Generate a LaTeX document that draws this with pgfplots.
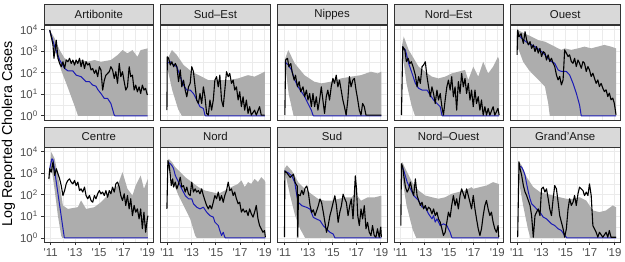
\documentclass[border=0pt]{standalone}
\usepackage{fontspec}
\setmainfont{Liberation Sans}
\usepackage{pgfplots}
\pgfplotsset{compat=1.18}
\usepgfplotslibrary{groupplots,fillbetween}
\usetikzlibrary{calc}
\definecolor{stripc}{HTML}{D9D9D9}
\definecolor{framec}{HTML}{333333}
\definecolor{gridc}{HTML}{EBEBEB}
\definecolor{ticklab}{HTML}{4D4D4D}
\definecolor{ribbonc}{HTML}{ADADAD}
\definecolor{modelblue}{HTML}{1C1CB4}
\pgfplotsset{
 every axis title shift=0pt,
 panel/.style={
  scale only axis, width=109.5pt, height=95pt,
  xmin=2010.45, xmax=2019.5, ymin=-0.2, ymax=4.2,
  xtick={2011,2013,2015,2017,2019}, ytick={0,1,2,3,4},
  minor x tick num=1, minor y tick num=1,
  grid=both,
  major grid style={gridc, line width=0.55pt},
  minor grid style={gridc, line width=0.3pt},
  minor tick length=0pt, major tick length=2.75pt,
  tick align=outside, tick pos=left,
  tick style={framec, line width=0.55pt},
  axis line style={framec, line width=0.55pt},
  xticklabels={\textquotesingle11,\textquotesingle13,\textquotesingle15,\textquotesingle17,\textquotesingle19},
  yticklabels={10\textsuperscript{0},10\textsuperscript{1},10\textsuperscript{2},10\textsuperscript{3},10\textsuperscript{4}},
  ticklabel style={font=\fontsize{11.4}{12}\selectfont, text=ticklab},
  title style={at={(0.5,1)}, anchor=south, fill=stripc, draw=framec, line width=0.55pt,
    minimum width=109.5pt, minimum height=20pt, inner sep=0pt,
    font=\fontsize{11.4}{12}\selectfont, text=black!90},
 },
 toprow/.style={xticklabels={}, xtick style={draw=none}},
 innercol/.style={yticklabels={}, ytick style={draw=none}},
 obs/.style={black, line width=1.1pt, line join=round},
 mod/.style={modelblue, line width=1pt, line join=round},
 rib/.style={fill=ribbonc, draw=none},
}
\begin{document}
\begin{tikzpicture}
\begin{groupplot}[group style={group size=5 by 2, horizontal sep=7pt, vertical sep=27pt}, panel]
% ---------------- Artibonite
\nextgroupplot[title={Artibonite}, toprow]
\addplot[name path=u1, draw=none, forget plot] coordinates {(2010.92,3.97)(2011.33,3.58)(2011.74,3.04)(2012.15,2.66)(2012.42,2.58)(2012.97,2.50)(2013.51,2.58)(2014.06,2.50)(2014.61,2.58)(2015.15,2.50)(2015.97,2.58)(2016.52,2.81)(2016.93,3.04)(2017.34,2.89)(2017.75,3.04)(2018.16,2.73)(2018.43,3.04)(2019.0,3.12)};
\addplot[name path=l1, draw=none, forget plot] coordinates {(2010.92,3.85)(2011.2,3.2)(2011.6,2.6)(2011.87,2.1)(2012.42,1.3)(2013.1,0.26)(2013.25,0)(2019.0,0)};
\addplot[rib] fill between[of=u1 and l1];
\addplot[mod] coordinates {(2010.92,3.94)(2011.33,3.20)(2011.74,2.58)(2012.15,2.19)(2012.42,2.08)(2012.83,2.08)(2013.10,1.88)(2013.51,1.81)(2013.92,1.58)(2014.20,1.58)(2014.47,1.42)(2014.74,1.37)(2014.88,1.22)(2015.15,1.03)(2015.43,0.80)(2015.70,0.80)(2015.97,0.57)(2016.25,0.03)(2016.30,0)(2019.0,0)};
\addplot[obs] coordinates {(2010.92,3.97)(2011.05,3.66)(2011.19,3.27)(2011.27,2.66)(2011.46,3.50)(2011.60,2.66)(2011.74,2.42)(2011.87,2.27)(2012.01,2.50)(2012.15,2.19)(2012.28,2.58)(2012.42,2.50)(2012.56,2.66)(2012.69,2.42)(2012.83,2.58)(2012.97,2.35)(2013.10,2.58)(2013.24,2.42)(2013.38,2.66)(2013.51,2.27)(2013.65,2.58)(2013.79,2.19)(2013.92,2.50)(2014.06,2.35)(2014.20,2.42)(2014.33,2.12)(2014.47,2.19)(2014.61,1.96)(2014.74,2.12)(2014.88,1.81)(2015.02,2.27)(2015.15,2.12)(2015.29,1.19)(2015.43,1.65)(2015.56,1.88)(2015.70,1.96)(2015.84,2.04)(2015.97,2.27)(2016.11,2.12)(2016.25,1.73)(2016.38,2.04)(2016.52,1.50)(2016.66,2.42)(2016.79,1.81)(2016.93,2.04)(2017.07,1.58)(2017.20,1.19)(2017.34,1.34)(2017.48,2.27)(2017.61,1.81)(2017.75,1.88)(2017.89,1.19)(2018.02,1.42)(2018.16,1.11)(2018.30,1.34)(2018.43,1.03)(2018.57,1.42)(2018.70,1.19)(2018.84,1.27)(2018.98,0.96)};
% ---------------- Sud-Est
\nextgroupplot[title={Sud\textendash Est}, toprow, innercol]
\addplot[name path=u2, draw=none, forget plot] coordinates {(2010.97,2.58)(2011.38,3.04)(2011.79,2.81)(2012.34,2.35)(2013.02,2.04)(2013.84,1.81)(2014.39,1.65)(2015.21,1.65)(2016.03,1.65)(2016.85,1.73)(2017.67,1.88)(2018.21,1.81)(2018.76,1.96)(2019.05,2.04)};
\addplot[name path=l2, draw=none, forget plot] coordinates {(2010.97,2.3)(2011.4,1.2)(2011.9,0.3)(2012.2,0)(2019.05,0)};
\addplot[rib] fill between[of=u2 and l2];
\addplot[mod] coordinates {(2010.97,2.42)(2011.25,2.50)(2011.52,2.35)(2011.79,2.27)(2012.07,1.81)(2012.34,1.42)(2012.61,1.19)(2012.89,1.19)(2013.16,1.03)(2013.43,0.73)(2013.70,0.42)(2013.98,0.34)(2014.11,0.03)(2014.15,0)(2019.05,0)};
\addplot[obs] coordinates {(2010.97,0.26)(2011.00,2.73)(2011.11,2.66)(2011.25,2.35)(2011.38,2.50)(2011.52,2.27)(2011.66,2.42)(2011.79,2.27)(2011.93,1.58)(2012.07,2.12)(2012.20,1.34)(2012.34,1.65)(2012.48,1.19)(2012.61,0.88)(2012.75,1.34)(2012.89,1.50)(2013.02,2.27)(2013.16,2.04)(2013.30,1.34)(2013.43,0.73)(2013.57,0.57)(2013.70,1.03)(2013.84,0.57)(2013.98,1.34)(2014.11,0.88)(2014.25,0.11)(2014.39,0.03)(2014.52,0.73)(2014.66,0.26)(2014.80,0.73)(2014.93,1.65)(2015.07,1.81)(2015.21,1.34)(2015.34,1.88)(2015.48,0.73)(2015.62,0.42)(2015.75,1.19)(2015.89,2.04)(2016.03,1.81)(2016.16,1.96)(2016.30,1.50)(2016.44,1.65)(2016.57,1.19)(2016.71,1.34)(2016.85,0.73)(2016.98,1.11)(2017.12,0.42)(2017.26,0.88)(2017.39,0.26)(2017.53,0.73)(2017.67,0.11)(2017.80,0.42)(2017.94,0.03)(2018.21,0.26)(2018.35,0.03)(2018.62,0.42)(2018.76,0.03)(2019.03,0.03)};
% ---------------- Nippes
\nextgroupplot[title={Nippes}, toprow, innercol]
\addplot[name path=u3, draw=none, forget plot] coordinates {(2011.08,2.6)(2011.36,3.04)(2011.9,2.42)(2012.7,1.88)(2013.5,1.58)(2014.1,1.5)(2014.9,1.58)(2015.73,1.73)(2016.55,1.81)(2017.37,1.88)(2018.19,2.04)(2018.74,1.96)(2019.05,2.04)};
\addplot[name path=l3, draw=none, forget plot] coordinates {(2011.08,2.45)(2011.4,1.0)(2011.8,0)(2019.05,0)};
\addplot[rib] fill between[of=u3 and l3];
\addplot[mod] coordinates {(2011.08,2.5)(2011.36,2.35)(2011.63,2.12)(2011.9,1.65)(2012.17,1.34)(2012.45,1.11)(2012.72,0.88)(2012.99,0.57)(2013.27,0.26)(2013.4,0.03)(2013.45,0)(2019.05,0)};
\addplot[obs] coordinates {(2011.08,0.03)(2011.14,2.58)(2011.30,2.66)(2011.41,2.27)(2011.57,2.42)(2011.68,2.04)(2011.85,1.65)(2011.96,1.88)(2012.12,1.34)(2012.26,1.58)(2012.39,1.11)(2012.58,1.34)(2012.72,0.88)(2012.86,1.19)(2012.99,0.73)(2013.13,1.03)(2013.27,0.42)(2013.40,1.03)(2013.54,0.42)(2013.68,0.88)(2013.81,0.26)(2013.95,0.73)(2014.09,1.34)(2014.22,0.73)(2014.36,0.11)(2014.50,0.88)(2014.63,1.19)(2014.77,0.73)(2014.91,1.34)(2015.05,1.73)(2015.18,1.50)(2015.32,1.88)(2015.46,1.34)(2015.59,1.65)(2015.73,1.19)(2015.87,0.73)(2016.00,0.42)(2016.14,0.03)(2016.28,0.73)(2016.41,1.81)(2016.55,1.34)(2016.69,1.65)(2016.82,1.73)(2016.96,1.19)(2017.10,0.73)(2017.23,0.26)(2017.37,0.03)(2017.50,0.57)(2017.64,0.42)(2017.78,0.03)(2019.05,0.03)};
% ---------------- Nord-Est
\nextgroupplot[title={Nord\textendash Est}, toprow, innercol]
\addplot[name path=u4, draw=none, forget plot] coordinates {(2011.14,3.3)(2011.27,3.66)(2011.68,3.04)(2012.09,2.66)(2012.5,2.27)(2013.05,2.04)(2013.6,1.81)(2014.14,1.73)(2014.69,1.81)(2015.23,1.96)(2015.78,2.04)(2016.33,2.12)(2016.6,1.65)(2017.01,2.27)(2017.42,1.81)(2017.83,2.5)(2018.24,1.96)(2018.65,2.27)(2019.05,2.73)(2019.15,2.58)};
\addplot[name path=l4, draw=none, forget plot] coordinates {(2011.14,3.0)(2011.5,1.5)(2011.9,0.5)(2012.2,0)(2019.15,0)};
\addplot[rib] fill between[of=u4 and l4];
\addplot[mod] coordinates {(2011.14,3.2)(2011.41,3.04)(2011.68,2.42)(2011.96,1.96)(2012.23,1.5)(2012.5,1.27)(2012.78,1.19)(2013.19,1.19)(2013.46,0.96)(2013.73,0.73)(2014.01,0.57)(2014.28,0.42)(2014.42,0.03)(2014.45,0)(2019.15,0)};
\addplot[obs] coordinates {(2011.08,0.03)(2011.19,3.20)(2011.36,3.04)(2011.49,2.50)(2011.63,2.66)(2011.77,2.42)(2011.90,2.50)(2012.04,2.27)(2012.23,1.88)(2012.37,1.34)(2012.50,1.81)(2012.64,1.50)(2012.78,2.27)(2012.91,2.35)(2013.05,2.50)(2013.19,1.81)(2013.32,1.34)(2013.46,0.88)(2013.60,1.34)(2013.73,1.03)(2013.87,0.57)(2014.01,1.19)(2014.14,0.73)(2014.28,1.03)(2014.42,0.42)(2014.55,0.03)(2014.69,0.73)(2014.83,1.34)(2014.96,1.65)(2015.10,1.19)(2015.23,1.81)(2015.37,0.88)(2015.51,1.34)(2015.64,0.26)(2015.78,1.58)(2015.92,1.03)(2016.05,1.96)(2016.19,1.34)(2016.33,1.73)(2016.46,1.03)(2016.60,1.50)(2016.74,0.73)(2016.87,1.19)(2017.01,0.42)(2017.15,1.19)(2017.28,0.57)(2017.42,0.88)(2017.56,0.26)(2017.69,0.73)(2017.83,0.03)(2017.97,0.42)(2018.10,0.03)(2018.24,0.34)(2018.38,0.03)(2018.65,0.42)(2018.79,0.03)(2019.05,0.34)(2019.15,0.03)};
% ---------------- Ouest
\nextgroupplot[title={Ouest}, toprow, innercol]
\addplot[name path=u5, draw=none, forget plot] coordinates {(2010.97,3.9)(2011.05,3.97)(2011.66,3.8)(2012.2,3.66)(2012.75,3.5)(2013.3,3.43)(2013.84,3.28)(2014.39,3.12)(2014.66,3.05)(2014.93,3.12)(2015.48,3.05)(2016.03,3.12)(2016.57,3.2)(2017.12,3.12)(2017.67,3.2)(2018.21,3.28)(2018.76,3.2)(2019.17,3.12)};
\addplot[name path=l5, draw=none, forget plot] coordinates {(2010.97,3.3)(2011.1,3.1)(2011.5,2.5)(2012.0,2.1)(2012.7,1.7)(2013.3,1.35)(2013.57,0.58)(2013.7,0)(2019.17,0)};
\addplot[rib] fill between[of=u5 and l5];
\addplot[mod] coordinates {(2011.05,3.8)(2011.38,3.58)(2011.93,3.35)(2012.48,3.2)(2013.02,2.97)(2013.3,2.82)(2013.57,2.66)(2013.84,2.51)(2014.11,2.43)(2014.39,2.12)(2014.66,2.05)(2015.07,2.05)(2015.34,1.89)(2015.62,1.5)(2015.89,1.05)(2016.16,0.5)(2016.3,0)(2019.17,0)};
\addplot[obs] coordinates {(2011.00,2.82)(2011.05,3.97)(2011.16,3.66)(2011.33,3.80)(2011.52,3.35)(2011.66,3.89)(2011.79,3.50)(2011.93,3.28)(2012.07,3.43)(2012.20,3.12)(2012.34,3.28)(2012.48,2.97)(2012.61,3.20)(2012.75,2.90)(2012.89,3.12)(2013.02,2.74)(2013.16,2.97)(2013.30,2.90)(2013.43,2.58)(2013.57,2.82)(2013.70,2.51)(2013.84,2.66)(2013.98,2.43)(2014.11,2.28)(2014.25,1.89)(2014.39,1.66)(2014.52,1.82)(2014.66,1.43)(2014.80,1.66)(2014.93,3.05)(2015.07,2.90)(2015.21,2.74)(2015.34,2.82)(2015.48,2.51)(2015.62,2.43)(2015.75,2.66)(2015.89,2.28)(2016.03,2.58)(2016.16,2.43)(2016.30,2.20)(2016.44,2.51)(2016.57,2.43)(2016.71,2.05)(2016.85,2.28)(2016.98,2.12)(2017.12,1.82)(2017.26,1.97)(2017.39,1.74)(2017.53,1.50)(2017.67,1.66)(2017.80,1.35)(2017.94,1.50)(2018.08,1.28)(2018.21,1.12)(2018.35,1.20)(2018.49,0.89)(2018.62,1.05)(2018.76,0.74)(2018.90,0.82)(2019.03,0.58)(2019.17,0.05)};
% ---------------- Centre
\nextgroupplot[title={Centre}]
\addplot[name path=u6, draw=none, forget plot] coordinates {(2010.85,3.0)(2011.05,3.97)(2011.33,3.66)(2011.6,2.89)(2011.87,2.0)(2012.01,1.5)(2012.42,1.34)(2013.24,1.42)(2013.51,1.73)(2013.92,1.34)(2014.61,1.42)(2015.15,1.65)(2015.7,1.96)(2016.11,2.19)(2016.52,2.42)(2016.93,3.04)(2017.34,2.27)(2017.75,1.96)(2018.02,2.42)(2018.43,2.89)(2018.7,2.27)(2019.03,2.73)};
\addplot[name path=l6, draw=none, forget plot] coordinates {(2010.85,2.6)(2011.05,3.3)(2011.33,2.2)(2011.6,1.0)(2011.87,0.1)(2011.95,0)(2019.03,0)};
\addplot[rib] fill between[of=u6 and l6];
\addplot[mod] coordinates {(2010.92,3.2)(2011.1,3.66)(2011.2,3.6)(2012.12,0.03)(2012.15,0)(2019.03,0)};
\addplot[obs] coordinates {(2010.85,2.73)(2010.92,3.20)(2011.05,3.04)(2011.19,3.51)(2011.33,2.89)(2011.46,3.20)(2011.60,2.97)(2011.74,2.73)(2011.87,2.42)(2012.01,1.96)(2012.15,2.19)(2012.28,2.50)(2012.42,2.66)(2012.56,2.73)(2012.69,2.58)(2012.83,2.50)(2012.97,2.66)(2013.10,2.42)(2013.24,2.58)(2013.38,2.19)(2013.51,2.27)(2013.65,2.12)(2013.79,2.35)(2013.92,1.96)(2014.06,1.81)(2014.20,1.96)(2014.33,1.73)(2014.47,1.65)(2014.61,1.96)(2014.74,1.81)(2014.88,2.04)(2015.02,2.19)(2015.15,2.04)(2015.29,2.12)(2015.43,1.96)(2015.56,2.19)(2015.70,1.88)(2015.84,2.19)(2015.97,2.04)(2016.11,2.35)(2016.25,2.12)(2016.38,2.50)(2016.52,2.58)(2016.66,2.35)(2016.79,1.96)(2016.93,1.73)(2017.07,2.04)(2017.20,1.50)(2017.34,1.96)(2017.48,1.34)(2017.61,1.81)(2017.75,1.03)(2017.89,1.50)(2018.02,1.19)(2018.16,1.34)(2018.30,0.88)(2018.43,1.34)(2018.57,0.42)(2018.70,1.19)(2018.84,0.26)(2018.98,0.88)(2019.03,1.03)};
% ---------------- Nord
\nextgroupplot[title={Nord}, innercol]
\addplot[name path=u7, draw=none, forget plot] coordinates {(2011.0,3.5)(2011.11,3.66)(2011.38,3.51)(2011.66,3.27)(2011.93,3.12)(2012.48,2.81)(2013.02,2.58)(2013.57,2.35)(2014.11,2.19)(2014.66,2.12)(2015.21,2.04)(2015.75,2.19)(2016.3,2.35)(2016.85,2.5)(2017.12,2.66)(2017.39,2.35)(2017.67,2.58)(2017.94,2.5)(2018.21,2.73)(2018.49,2.58)(2018.76,2.81)(2019.03,2.66)(2019.1,2.58)};
\addplot[name path=l7, draw=none, forget plot] coordinates {(2011.0,3.4)(2011.38,2.73)(2011.93,1.96)(2012.48,1.34)(2012.89,0.88)(2013.3,0.11)(2013.43,0)(2019.1,0)};
\addplot[rib] fill between[of=u7 and l7];
\addplot[mod] coordinates {(2011.05,3.51)(2011.25,3.43)(2011.38,3.35)(2011.52,3.2)(2011.66,2.89)(2011.93,2.58)(2012.2,2.27)(2012.48,1.96)(2012.75,1.81)(2013.02,1.81)(2013.16,1.58)(2013.43,1.42)(2013.7,1.34)(2013.98,1.42)(2014.25,1.19)(2014.52,1.03)(2014.8,0.96)(2014.93,0.73)(2015.21,0.57)(2015.34,0.34)(2015.48,0.11)(2015.62,0.26)(2015.75,0.03)(2015.8,0)(2019.1,0)};
\addplot[obs] coordinates {(2010.97,1.34)(2011.05,3.58)(2011.16,3.35)(2011.25,2.89)(2011.33,2.42)(2011.44,2.73)(2011.52,2.35)(2011.66,2.58)(2011.79,2.27)(2011.93,2.50)(2012.07,2.81)(2012.20,2.35)(2012.34,2.42)(2012.48,2.12)(2012.61,2.35)(2012.75,2.04)(2012.89,1.96)(2013.02,2.58)(2013.16,2.12)(2013.30,2.27)(2013.43,2.12)(2013.57,2.19)(2013.70,2.04)(2013.84,2.27)(2013.98,1.96)(2014.11,1.73)(2014.25,1.50)(2014.39,1.34)(2014.52,1.50)(2014.66,1.34)(2014.80,1.65)(2014.93,1.96)(2015.07,1.81)(2015.21,2.12)(2015.34,1.73)(2015.48,1.96)(2015.62,1.65)(2015.75,1.96)(2015.89,2.19)(2016.03,2.58)(2016.16,2.19)(2016.30,2.27)(2016.44,1.96)(2016.57,2.12)(2016.71,1.81)(2016.85,1.58)(2016.98,1.65)(2017.12,1.19)(2017.26,1.34)(2017.39,1.19)(2017.53,1.27)(2017.67,1.03)(2017.80,1.34)(2017.94,1.11)(2018.08,0.96)(2018.21,1.19)(2018.35,1.50)(2018.49,0.88)(2018.62,0.57)(2018.76,0.42)(2018.90,0.26)(2019.03,0.34)(2019.10,0.03)};
% ---------------- Sud
\nextgroupplot[title={Sud}, innercol]
\addplot[name path=u8, draw=none, forget plot] coordinates {(2011.05,3.2)(2011.25,3.36)(2011.66,3.1)(2012.2,2.56)(2012.75,2.25)(2013.3,2.02)(2013.84,1.8)(2014.39,1.72)(2014.93,1.72)(2015.48,1.8)(2016.03,1.87)(2016.57,1.87)(2016.8,2.0)(2016.9,2.9)(2017.0,2.0)(2017.37,1.72)(2017.91,1.87)(2018.46,1.87)(2019.05,1.95)};
\addplot[name path=l8, draw=none, forget plot] coordinates {(2011.05,3.0)(2011.16,2.87)(2011.52,1.95)(2011.93,1.03)(2012.34,0.42)(2012.75,0)(2019.05,0)};
\addplot[rib] fill between[of=u8 and l8];
\addplot[mod] coordinates {(2011.05,3.1)(2011.38,3.0)(2011.66,2.87)(2011.9,2.56)(2012.07,1.95)(2012.2,1.64)(2012.48,1.49)(2012.89,1.41)(2013.16,1.33)(2013.43,0.95)(2013.7,0.87)(2013.98,0.8)(2014.25,0.57)(2014.52,0.42)(2014.8,0.26)(2015.07,0.18)(2015.21,0)(2019.05,0)};
\addplot[obs] coordinates {(2011.05,0.03)(2011.08,3.10)(2011.25,3.00)(2011.52,2.80)(2011.79,2.95)(2011.93,2.56)(2012.10,2.40)(2012.15,0.03)(2012.20,2.00)(2012.34,1.95)(2012.48,2.20)(2012.61,2.00)(2012.75,2.30)(2012.89,2.40)(2013.02,2.10)(2013.16,1.50)(2013.30,1.18)(2013.43,1.30)(2013.57,1.03)(2013.84,1.49)(2013.98,1.80)(2014.11,1.64)(2014.25,1.20)(2014.39,0.72)(2014.52,0.26)(2014.66,0.57)(2014.80,1.03)(2014.93,1.30)(2015.07,1.64)(2015.21,1.95)(2015.34,1.50)(2015.48,0.72)(2015.62,1.20)(2015.75,1.49)(2015.89,2.02)(2016.03,1.80)(2016.16,1.64)(2016.30,1.03)(2016.44,1.49)(2016.57,1.80)(2016.71,0.88)(2016.90,2.87)(2017.00,2.25)(2017.10,1.03)(2017.23,0.57)(2017.37,1.34)(2017.50,0.88)(2017.64,1.49)(2017.78,0.42)(2017.91,0.72)(2018.05,0.26)(2018.19,0.11)(2018.32,0.57)(2018.46,0.11)(2018.60,0.03)(2018.73,0.42)(2018.87,0.03)(2019.00,0.50)(2019.05,0.03)};
% ---------------- Nord-Ouest
\nextgroupplot[title={Nord\textendash Ouest}, innercol]
\addplot[name path=u9, draw=none, forget plot] coordinates {(2011.03,3.3)(2011.14,3.51)(2011.55,3.04)(2011.96,2.58)(2012.5,2.19)(2013.05,1.96)(2013.6,1.88)(2014.14,1.81)(2014.69,1.88)(2015.23,2.04)(2015.78,2.12)(2016.33,2.19)(2016.87,2.35)(2017.01,2.27)(2017.56,2.35)(2018.1,2.42)(2018.65,2.58)(2019.06,2.5)(2019.12,2.5)};
\addplot[name path=l9, draw=none, forget plot] coordinates {(2011.08,3.0)(2011.5,1.5)(2012.0,0.4)(2012.3,0)(2019.12,0)};
\addplot[rib] fill between[of=u9 and l9];
\addplot[mod] coordinates {(2011.08,3.35)(2011.27,3.12)(2011.55,2.58)(2011.82,2.27)(2012.09,1.96)(2012.5,1.73)(2012.78,1.42)(2013.05,1.42)(2013.32,1.11)(2013.6,0.88)(2013.73,1.03)(2013.87,0.73)(2014.01,0.88)(2014.28,0.57)(2014.55,0.65)(2014.83,0.57)(2015.1,0.26)(2015.23,0.03)(2015.28,0)(2019.12,0)};
\addplot[obs] coordinates {(2011.03,0.57)(2011.08,3.43)(2011.19,3.27)(2011.27,2.89)(2011.41,2.35)(2011.55,2.12)(2011.68,2.27)(2011.82,2.58)(2011.96,2.19)(2012.09,1.96)(2012.23,2.73)(2012.37,1.96)(2012.50,1.73)(2012.64,1.50)(2012.78,1.65)(2012.91,1.34)(2013.05,1.50)(2013.19,1.27)(2013.32,1.42)(2013.46,1.34)(2013.60,1.11)(2013.73,1.34)(2013.87,1.03)(2014.01,1.19)(2014.14,0.88)(2014.28,0.73)(2014.42,0.42)(2014.55,0.11)(2014.69,0.26)(2014.83,0.73)(2014.96,1.19)(2015.10,0.96)(2015.23,1.50)(2015.37,1.96)(2015.51,1.50)(2015.64,1.81)(2015.78,1.34)(2015.92,1.96)(2016.05,2.27)(2016.19,2.04)(2016.33,1.81)(2016.46,2.27)(2016.60,1.96)(2016.74,1.65)(2016.87,1.34)(2017.01,1.96)(2017.15,1.34)(2017.28,0.88)(2017.42,0.42)(2017.56,0.11)(2017.69,0.42)(2017.83,1.03)(2017.97,1.50)(2018.10,1.73)(2018.24,1.34)(2018.38,1.03)(2018.51,1.19)(2018.65,0.73)(2018.79,0.42)(2018.92,0.26)(2019.06,0.57)(2019.12,0.03)};
% ---------------- Grand'Anse
\nextgroupplot[title={Grand'Anse}, innercol]
\addplot[name path=u10, draw=none, forget plot] coordinates {(2011.1,3.58)(2011.38,3.35)(2011.79,2.81)(2012.34,2.35)(2012.89,2.12)(2013.43,2.04)(2013.98,1.96)(2014.52,1.88)(2015.07,1.81)(2015.62,1.81)(2016.16,1.88)(2016.71,1.73)(2017.26,1.27)(2017.8,1.19)(2018.35,1.27)(2018.9,1.5)(2019.17,1.42)};
\addplot[name path=l10, draw=none, forget plot] coordinates {(2011.1,2.8)(2011.5,1.5)(2011.9,0.4)(2012.1,0)(2019.17,0)};
\addplot[rib] fill between[of=u10 and l10];
\addplot[mod] coordinates {(2011.16,3.35)(2011.38,3.27)(2011.52,3.12)(2011.66,2.89)(2011.79,2.5)(2011.93,2.12)(2012.07,1.81)(2012.2,1.58)(2012.48,1.42)(2012.61,1.34)(2012.89,1.19)(2013.16,0.96)(2013.43,0.88)(2013.7,0.73)(2013.84,0.65)(2014.11,0.57)(2014.39,0.42)(2014.66,0.34)(2014.93,0.11)(2015.07,0.03)(2015.1,0)(2019.17,0)};
\addplot[obs] coordinates {(2011.05,0.03)(2011.16,3.51)(2011.25,3.20)(2011.38,2.89)(2011.52,2.42)(2011.66,2.12)(2011.79,1.96)(2011.93,1.73)(2012.07,1.50)(2012.20,1.03)(2012.34,0.03)(2012.48,1.03)(2012.61,1.19)(2012.75,1.34)(2012.89,1.03)(2013.02,2.27)(2013.16,2.35)(2013.30,2.12)(2013.43,2.27)(2013.57,1.81)(2013.70,1.34)(2013.84,1.03)(2013.98,1.81)(2014.11,2.42)(2014.25,2.27)(2014.39,1.65)(2014.52,1.03)(2014.66,0.73)(2014.80,0.42)(2014.93,0.03)(2015.07,0.42)(2015.21,1.34)(2015.34,1.81)(2015.48,1.50)(2015.62,1.65)(2015.75,1.96)(2015.89,1.50)(2016.03,2.04)(2016.16,2.35)(2016.30,2.27)(2016.44,2.19)(2016.57,1.96)(2016.71,2.12)(2016.85,1.96)(2016.98,2.50)(2017.12,1.96)(2017.26,0.57)(2017.39,0.42)(2017.53,0.26)(2017.67,0.03)(2017.80,0.26)(2018.08,0.03)(2018.35,0.26)(2018.49,0.03)(2018.62,0.34)(2018.76,0.03)(2019.17,0.03)};
\end{groupplot}
\node[rotate=90, font=\fontsize{14.3}{15}\selectfont] at ($(group c1r1.north west)!0.5!(group c1r2.south west)+(-35.5pt,0)$) {Log Reported Cholera Cases};
\pgfresetboundingbox
\path[use as bounding box] ($(group c1r1.north west)+(-44pt,25pt)$) rectangle ($(group c5r2.south east)+(5pt,-19pt)$);
\end{tikzpicture}
\end{document}
